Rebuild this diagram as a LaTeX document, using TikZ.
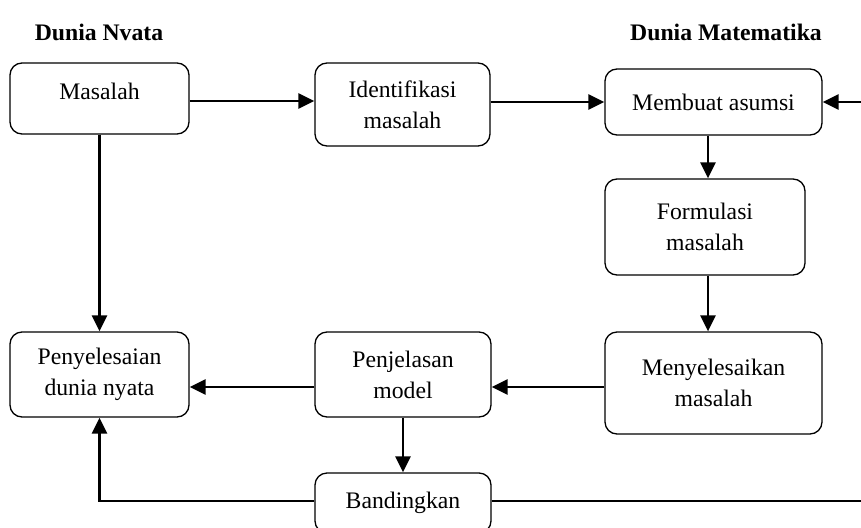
\documentclass[tikz,border=0pt]{standalone}
\usepackage{fontspec}
\setmainfont{Liberation Serif}
\usepackage{tikz}
\usetikzlibrary{positioning,arrows.meta,calc}
\tikzset{
  box/.style={rectangle,draw,rounded corners=12pt,line width=1.3pt,align=center,inner sep=0pt,font=\fontsize{23.7}{31}\selectfont},
  ttl/.style={font=\fontsize{23.7}{31}\selectfont\bfseries},
  edge/.style={-{Triangle[length=16pt,width=15pt]},line width=2.4pt},
  line/.style={line width=1.8pt}
}

\begin{document}
\begin{tikzpicture}[x=1pt,y=-1pt]
\useasboundingbox (0,0) rectangle (861,527);
\node[ttl] (tl) at (99,32) {Dunia Nvata}; \node[ttl] (tr) at (726,32) {Dunia Matematika};
\node[box,minimum width=179pt,minimum height=71pt] (masalah) at (99.5,98.5) {Masalah\\[-17pt]};
\node[box,minimum width=175pt,minimum height=83pt] (ident) at (402.5,104.5) {Identifikasi\\masalah};
\node[box,minimum width=217pt,minimum height=66pt] (asumsi) at (713.5,102) {Membuat asumsi};
\node[box,minimum width=200pt,minimum height=96pt] (form) at (705,227) {Formulasi\\masalah};
\node[box,minimum width=217pt,minimum height=102pt] (selesai) at (713.5,383) {Menyelesaikan\\masalah};
\node[box,minimum width=176pt,minimum height=85pt] (jelas) at (403,374.5) {Penjelasan\\model};
\node[box,minimum width=179pt,minimum height=85pt] (nyata) at (99.5,374.5) {Penyelesaian\\dunia nyata};
\node[box,minimum width=176pt,minimum height=60pt] (banding) at (403,503) {Bandingkan};
\coordinate (rin) at (861,102); \coordinate (rout) at (861,501);
% atas
\draw[edge] (masalah.east |- 0,101) -- (ident.west |- 0,101);
\draw[edge] (ident.east |- asumsi.west) -- (asumsi.west);
\draw[edge] (rin) -- (asumsi.east);
\draw[edge] (asumsi.south -| 708,0) -- (form.north -| 708,0);
\draw[edge] (form.south -| 708,0) -- (selesai.north -| 708,0);
% bawah
\draw[edge] (selesai.west |- 0,387) -- (jelas.east |- 0,387);
\draw[edge] (jelas.west |- 0,387) -- (nyata.east |- 0,387);
\draw[edge] (masalah.south) -- (nyata.north);
\draw[edge] (jelas.south) -- (banding.north);
\draw[edge] (banding.west |- 0,501) -| (nyata.south);
\draw[line] (banding.east |- rout) -- (rout);
\end{tikzpicture}
\end{document}
